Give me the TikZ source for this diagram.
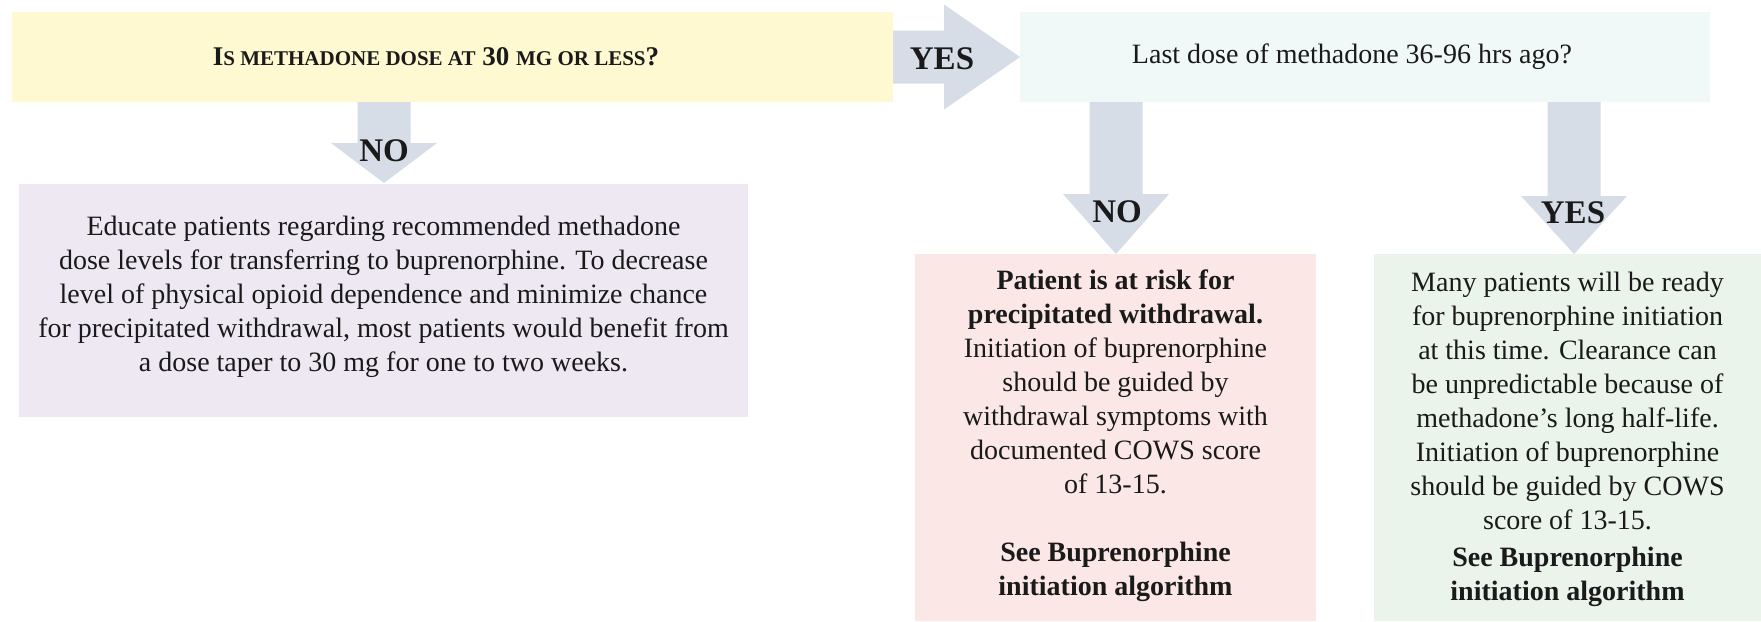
\documentclass[tikz,border=0pt]{standalone}
\usepackage{fontspec}
\setmainfont{Liberation Serif}
\usetikzlibrary{calc}
\definecolor{cyel}{HTML}{FEF9D0}
\definecolor{ccyan}{HTML}{F0F9F7}
\definecolor{cpur}{HTML}{EEE8F3}
\definecolor{cpink}{HTML}{FCE7E7}
\definecolor{cgreen}{HTML}{EBF4EA}
\definecolor{carrow}{HTML}{D6DDE7}
\definecolor{ctext}{HTML}{1A1A1A}
\newcommand{\fsc}[1]{{\fontsize{21}{21}\selectfont #1}}
\newcommand{\bodyfont}{\fontsize{28}{34}\selectfont}
\newcommand{\vblock}[3]{%
  \fill[carrow] ($(#1)+(-26.5,0)$) -- ($(#1)+(26.5,0)$) -- ($(#2)+(26.5,-#3)$) -- ($(#2)+(53,-#3)$) -- (#2) -- ($(#2)+(-53,-#3)$) -- ($(#2)+(-26.5,-#3)$) -- cycle;}
\begin{document}
\begin{tikzpicture}[x=1pt,y=-1pt,
  box/.style={rectangle,draw=none,inner sep=0pt,outer sep=0pt},
  txt/.style={inner sep=0pt,outer sep=0pt,align=center,text=ctext,font=\bodyfont},
  lbl/.style={inner sep=0pt,text=ctext,font=\bfseries\fontsize{33}{36}\selectfont}]
\fill[white] (0,0) rectangle (1761,621);
\useasboundingbox (0,0) rectangle (1761,621);
% boxes
\node[box,fill=cyel,minimum width=881pt,minimum height=90pt] (q1) at (452.5,57) {};
\node[box,fill=ccyan,minimum width=690pt,minimum height=90pt] (q2) at (1365,57) {};
\node[box,fill=cpur,minimum width=729pt,minimum height=233pt] (edu) at (383.5,300.5) {};
\node[box,fill=cpink,minimum width=401pt,minimum height=367pt] (risk) at (1115.5,437.5) {};
\node[box,fill=cgreen,minimum width=387pt,minimum height=367pt] (ready) at (1567.5,437.5) {};
% arrows
\coordinate (n1t) at (384,183);
\coordinate (n1s) at (q1.south -| n1t);
\vblock{n1s}{n1t}{40}
\coordinate (n2t) at (1116,254);
\coordinate (n2s) at (q2.south -| n2t);
\vblock{n2s}{n2t}{60}
\coordinate (y2t) at (1574,254);
\coordinate (y2s) at (q2.south -| y2t);
\vblock{y2s}{y2t}{58}
\coordinate (y1s) at (q1.east);
\coordinate (y1t) at (q2.west);
\fill[carrow] ($(y1s)+(0,-26.5)$) -- ($(y1t)+(-76,-26.5)$) -- ($(y1t)+(-76,-52.5)$) -- (y1t) -- ($(y1t)+(-76,52.5)$) -- ($(y1t)+(-76,26.5)$) -- ($(y1s)+(0,26.5)$) -- cycle;
% labels
\node[lbl] (no1) at (384,151) {NO};
\node[lbl] (yes1) at (942,59) {YES};
\node[lbl] (no2) at (1117,212) {NO};
\node[lbl] (yes2) at (1573,213) {YES};
% texts
\node[txt,font=\bfseries\fontsize{27}{32}\selectfont] (q1t) at (436,57) {I\fsc{S METHADONE DOSE AT} 30 \fsc{MG OR LESS}?};
\node[txt] (q2t) at (1352,57) {Last dose of methadone 36-96 hrs ago?};
\node[txt] (edut) at (383.5,297) {Educate patients regarding recommended methadone\\
dose levels for transferring to buprenorphine. To decrease\\
level of physical opioid dependence and minimize chance\\
for precipitated withdrawal, most patients would benefit from\\
a dose taper to 30 mg for one to two weeks.};
\node[txt,anchor=north] (riskt) at (1115.5,270) {\textbf{Patient is at risk for}\\
\textbf{precipitated withdrawal.}\\
Initiation of buprenorphine\\
should be guided by\\
withdrawal symptoms with\\
documented COWS score\\
of 13-15.\\[34pt]
\textbf{See Buprenorphine}\\
\textbf{initiation algorithm}};
\node[txt,anchor=north] (readyt) at (1567.5,272) {Many patients will be ready\\
for buprenorphine initiation\\
at this time. Clearance can\\
be unpredictable because of\\
methadone’s long half-life.\\
Initiation of buprenorphine\\
should be guided by COWS\\
score of 13-15.\\[3pt]
\textbf{See Buprenorphine}\\
\textbf{initiation algorithm}};
\end{tikzpicture}
\end{document}
